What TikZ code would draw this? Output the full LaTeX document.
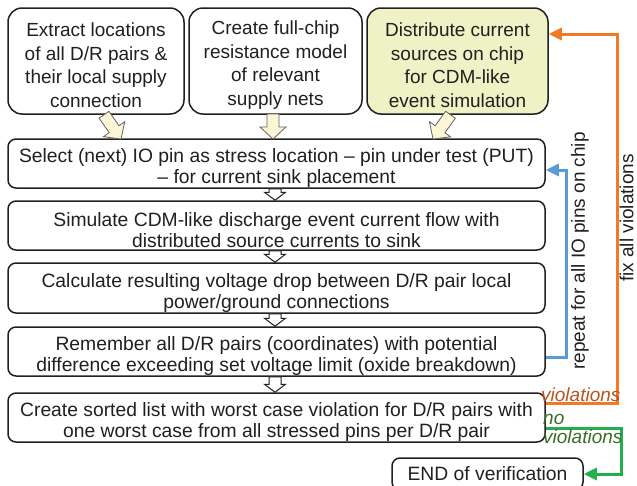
\documentclass[tikz,border=0pt]{standalone}
\usepackage{fontspec}
\setmainfont{Liberation Sans}
\usetikzlibrary{calc,arrows.meta}
\definecolor{txt}{RGB}{35,31,32}
\definecolor{boxline}{RGB}{35,31,32}
\definecolor{hili}{RGB}{238,242,197}
\definecolor{cream}{RGB}{251,247,214}
\definecolor{orng}{RGB}{242,122,36}
\definecolor{orngtxt}{RGB}{184,84,30}
\definecolor{blu}{RGB}{91,155,213}
\definecolor{grn}{RGB}{34,176,76}
\definecolor{grntxt}{RGB}{58,110,40}
\newcommand\toplift{\rule{0pt}{22pt}}
\newcommand\steplift{\rule{0pt}{23pt}}
\tikzset{
  topbox/.style={draw=boxline, line width=1.5pt, rounded corners=14pt, align=center,
    text=txt, font=\fontsize{19}{23.8}\selectfont, minimum height=106pt, inner sep=0pt},
  stepbox/.style={draw=boxline, line width=1.5pt, rounded corners=8pt, align=center,
    text=txt, font=\fontsize{19.3}{21}\selectfont, minimum width=537pt, minimum height=49pt, inner sep=0pt},
  flowline/.style={line width=3pt, -{Triangle[length=13pt,width=12pt]}},
  sidelabel/.style={font=\fontsize{19}{21}\selectfont, text=txt, rotate=90, inner sep=0pt},
  fatarr/.style={draw=boxline!70, line width=0.8pt, fill=cream, line join=miter},
  hollowarr/.style={draw=boxline, line width=1pt, fill=white, line join=miter},
  vlabel/.style={font=\fontsize{19}{21}\selectfont\itshape, inner sep=0pt, anchor=base west},
}
% #1 style, #2 tail, #3 tip, #4 shaft half width, #5 head half width, #6 head length
\newcommand\fatarrow[6]{%
  \path ($(#3)!#6!(#2)$) coordinate (fh);
  \filldraw[#1] ($(#2)!#4!90:(#3)$) -- ($(fh)!#4!90:(#3)$) -- ($(fh)!#5!90:(#3)$) -- (#3)
    -- ($(fh)!#5!-90:(#3)$) -- ($(fh)!#4!-90:(#3)$) -- ($(#2)!#4!-90:(#3)$) -- cycle;
}
\begin{document}
\begin{tikzpicture}[x=1pt,y=-1pt]
\clip (0,0) rectangle (637,485);
\fill[white] (0,0) rectangle (637,485);

% top boxes
\node[topbox, minimum width=176pt] (b1) at (96,61) {\toplift Extract locations\\of all D/R pairs \&\\their local supply\\connection};
\node[topbox, minimum width=173pt] (b2) at (275.5,61) {\toplift Create full-chip\\resistance model\\of relevant\\supply nets};
\node[topbox, minimum width=181pt, fill=hili] (b3) at (457.5,61) {\toplift Distribute current\\sources on chip\\for CDM-like\\event simulation};

% process steps
\node[stepbox] (sel) at (276.5,163.5) {\steplift Select (next) IO pin as stress location -- pin under test (PUT)\\-- for current sink placement};
\node[stepbox] (sim) at (276.5,225.5) {\steplift Simulate CDM-like discharge event current flow with\\distributed source currents to sink};
\node[stepbox, minimum height=50pt] (calc) at (276.5,288) {\steplift Calculate resulting voltage drop between D/R pair local\\power/ground connections};
\node[stepbox] (rem) at (276.5,351.5) {\steplift Remember all D/R pairs (coordinates) with potential\\difference exceeding set voltage limit (oxide breakdown)};
\node[stepbox] (srt) at (276.5,417.5) {\steplift Create sorted list with worst case violation for D/R pairs with\\one worst case from all stressed pins per D/R pair};
\node[stepbox, minimum width=191pt, minimum height=32pt] (end) at (487.5,474) {END of verification};

% fat arrows from top boxes
\coordinate (t1) at ([xshift=8pt]b1.south);
\coordinate (h1) at (121,139);
\coordinate (t2) at (273,114);
\coordinate (h2) at (273,139);
\coordinate (t3) at ([xshift=-7pt]b3.south);
\coordinate (h3) at (433,139);
\fatarrow{fatarr}{t1}{h1}{6pt}{13pt}{12pt}
\fatarrow{fatarr}{t2}{h2}{6pt}{13pt}{12pt}
\fatarrow{fatarr}{t3}{h3}{6pt}{13pt}{12pt}

% hollow arrows between steps
\coordinate (s1) at ([xshift=-1.5pt]sel.south);
\coordinate (e1) at ([xshift=-1.5pt]sim.north);
\coordinate (s2) at ([xshift=-1.5pt]sim.south);
\coordinate (e2) at ([xshift=-1.5pt]calc.north);
\coordinate (s3) at ([xshift=-1.5pt]calc.south);
\coordinate (e3) at ([xshift=-1.5pt]rem.north);
\coordinate (s4) at ([xshift=-1.5pt]rem.south);
\coordinate (e4) at ([xshift=-1.5pt]srt.north);
\fatarrow{hollowarr}{s1}{e1}{6pt}{10.5pt}{8pt}
\fatarrow{hollowarr}{s2}{e2}{6pt}{10.5pt}{8pt}
\fatarrow{hollowarr}{s3}{e3}{6pt}{10.5pt}{8pt}
\fatarrow{hollowarr}{s4}{e4}{6pt}{10.5pt}{8pt}

% loop arrows
\draw[flowline, blu] ([yshift=-5.5pt]rem.east) -- ++(21,0) |- ([yshift=-6.5pt]sel.east);
\draw[flowline, orng] ([yshift=14.5pt]srt.east) -- ++(72,0) |- ([yshift=27pt]b3.east);
\draw[flowline, grn] ([yshift=-10.5pt]srt.east) -- ++(76,0) |- (end.east);

% labels
\node[sidelabel] (lrep) at (580,251) {repeat for all IO pins on chip};
\node[sidelabel] (lfix) at (626.5,218) {fix all violations};
\node[vlabel, text=orngtxt] (lv) at (541,401) {violations};
\node[vlabel, text=grntxt] (lno) at (543,424) {no};
\node[vlabel, text=grntxt] (lnv) at (543,443) {violations};
\end{tikzpicture}
\end{document}
